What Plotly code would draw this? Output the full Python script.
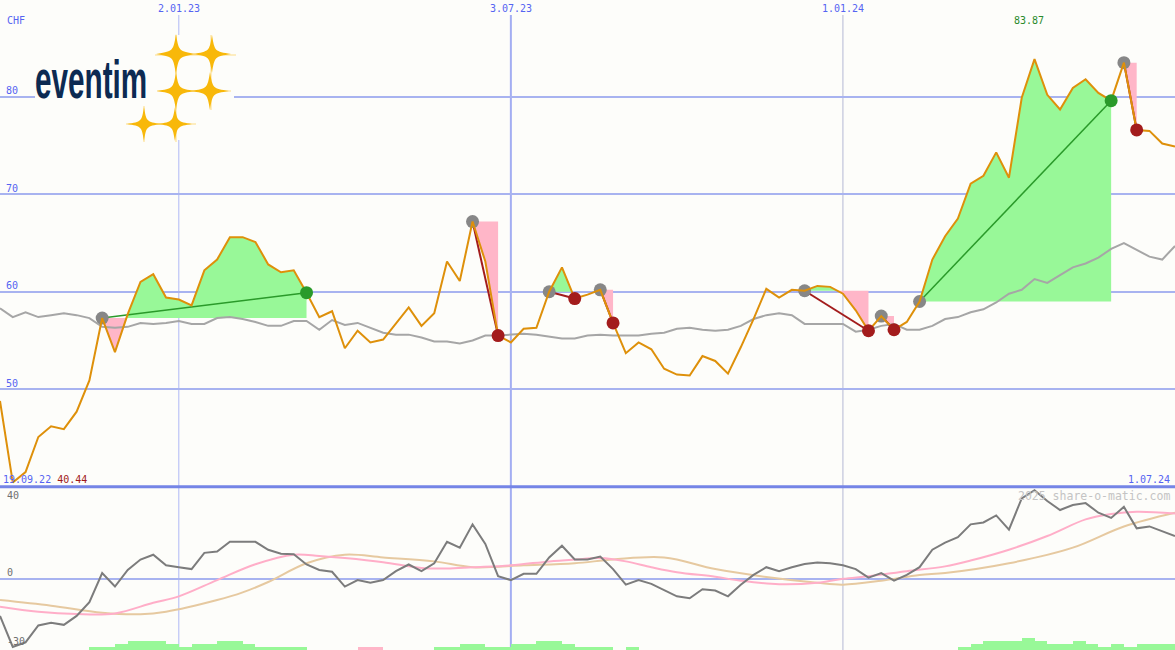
import plotly.graph_objects as go
import pandas as pd

# ---------------- data ----------------
start_date = "2022-09-26"
end_date = "2024-07-01"

price = [48.8, 40.44, 41.5, 45.1, 46.2, 45.9, 47.7, 50.9, 57.3, 53.8,
         57.7, 61.0, 61.8, 59.4, 59.2, 58.6, 62.2, 63.3, 65.6, 65.6,
         65.1, 62.8, 62.0, 62.2, 59.9, 57.4, 58.0, 54.2, 56.0, 54.8,
         55.1, 56.7, 58.4, 56.5, 57.8, 63.1, 61.1, 67.2, 63.1, 55.5,
         54.8, 56.2, 56.3, 60.0, 62.5, 59.3, 59.7, 60.2, 56.8, 53.7,
         54.8, 54.1, 52.1, 51.5, 51.4, 53.4, 52.9, 51.6, 54.3, 57.2,
         60.3, 59.4, 60.2, 60.1, 60.6, 60.5, 59.8, 58.1, 56.0, 57.5,
         56.1, 56.9, 59.0, 63.3, 65.7, 67.5, 71.1, 71.9, 74.3, 71.7,
         79.9, 83.87, 80.2, 78.7, 80.9, 81.8, 80.4, 79.6, 83.5, 76.6,
         76.5, 75.2, 74.9]

benchmark = [58.3, 57.4, 57.9, 57.4, 57.6, 57.8, 57.6, 57.3, 56.4, 56.3,
             56.4, 56.8, 56.7, 56.8, 57.0, 56.7, 56.7, 57.3, 57.4, 57.2,
             56.9, 56.5, 56.5, 57.0, 57.0, 56.1, 57.1, 56.6, 56.8, 56.3,
             55.8, 55.6, 55.6, 55.3, 54.9, 54.9, 54.7, 55.0, 55.5, 55.5,
             55.6, 55.7, 55.6, 55.4, 55.2, 55.2, 55.5, 55.6, 55.5, 55.5,
             55.5, 55.7, 55.8, 56.2, 56.3, 56.1, 56.0, 56.1, 56.5, 57.2,
             57.6, 57.8, 57.6, 56.7, 56.7, 56.7, 56.7, 55.9, 56.1, 56.5,
             56.7, 56.1, 56.1, 56.5, 57.2, 57.4, 57.9, 58.2, 58.9, 59.8,
             60.2, 61.3, 60.9, 61.7, 62.5, 62.9, 63.5, 64.4, 65.0, 64.3,
             63.6, 63.3, 64.7]

momentum = [-17.8, -32.7, -30.5, -22.4, -21.1, -22.1, -17.8, -11.2, 2.8, -3.7,
            4.3, 9.3, 11.6, 6.5, 5.6, 4.7, 12.5, 13.1, 17.8, 17.8,
            17.8, 14.0, 12.1, 11.8, 6.9, 4.3, 3.4, -3.7, -0.6, -1.9,
            -0.6, 3.7, 6.9, 3.7, 7.5, 17.8, 15.0, 26.2, 16.8, 1.3,
            -0.6, 2.4, 2.4, 10.3, 15.9, 9.3, 9.3, 10.7, 4.7, -2.8,
            -0.6, -2.4, -5.6, -8.4, -9.3, -5.0, -5.6, -8.4, -2.8, 1.9,
            5.6, 3.7, 5.6, 7.1, 7.9, 7.5, 6.5, 4.7, 0.6, 2.8,
            -0.9, 1.9, 5.6, 14.0, 17.4, 20.0, 26.2, 27.1, 30.5, 23.7,
            38.7, 42.6, 37.4, 33.1, 35.5, 36.4, 31.8, 29.3, 34.6, 24.3,
            25.2, 23.0, 20.6]

fast_week = [0, 3, 6, 9, 12, 14, 17, 20, 23, 25, 27, 30, 33, 35, 37, 40, 43, 45, 47,
             49, 51, 53, 56, 58, 61, 64, 66, 68, 71, 74, 76, 79, 82, 85, 87, 89, 92]
fast_avg = [-13.4, -15.8, -16.9, -16.6, -11.5, -8.4, -0.6, 7.0, 11.6, 11.0, 10.0, 8.0,
            5.2, 5.0, 5.6, 6.5, 8.4, 9.3, 10.0, 8.4, 5.6, 3.2, 1.0, -0.9, -2.6, -1.9,
            0.0, 1.3, 3.7, 6.0, 8.8, 14.0, 20.6, 28.6, 31.2, 32.3, 31.4]

slow_week = [0, 4, 8, 11, 13, 17, 19, 21, 24, 27, 30, 34, 37, 41, 45, 48, 52, 56,
             60, 64, 66, 69, 72, 74, 79, 84, 88, 92]
slow_avg = [-10.2, -12.9, -16.3, -17.0, -15.8, -10.2, -6.5, -1.5, 7.5, 11.6, 10.3, 8.4,
            5.6, 6.5, 7.5, 9.3, 10.3, 4.7, 0.9, -1.9, -2.8, -0.9, 1.9, 2.8, 7.5, 15.0,
            25.2, 31.8]

# weekly volume levels (green = up, pink = down)
vol_up = [0, 0, 0, 0, 0, 0, 0, 1, 1, 2, 3, 3, 3, 2, 1, 2, 2, 3, 3, 2,
          1, 1, 1, 1, 0, 0, 0, 0, 0, 0, 0, 0, 0, 0, 1, 1, 2, 2, 1, 1,
          2, 2, 3, 3, 2, 1, 1, 1, 0, 1, 0, 0, 0, 0, 0, 0, 0, 0, 0, 0,
          0, 0, 0, 0, 0, 0, 0, 0, 0, 0, 0, 0, 0, 0, 0, 1, 2, 3, 3, 3,
          4, 3, 2, 2, 3, 2, 1, 2, 1, 2, 2, 2, 2]
vol_dn = [0] * 28 + [1, 1] + [0] * 63

buy_week = [8, 37, 43, 47, 63, 69, 72, 88]
sell_week = [24, 39, 45, 48, 68, 70, 87, 89]

top_dates = ["2023-01-02", "2023-07-03", "2024-01-01"]
top_labels = ["2.01.23", "3.07.23", "1.01.24"]
end_label = "1.07.24"
low_label = "19.09.22"
low_value = "40.44"
high_value = "83.87"
price_ticks = [50, 60, 70, 80]

# ---------------- styling ----------------
W, H = 1175, 650
BG = "#fdfdfa"
BLUE_TXT = "#5564f2"
GRID = "#a8b3f0"
ORANGE = "#de900a"
FILL_G = "#98f898"
FILL_P = "#ffb6c8"
MONO = "DejaVu Sans Mono, monospace"

t0 = pd.Timestamp(start_date)


def wdate(k):
    return t0 + pd.Timedelta(days=7 * k)


dates = [wdate(k) for k in range(len(price))]

fig = go.Figure()

# trade fills
for kb, ks in zip(buy_week, sell_week):
    level = price[kb]
    xs, vs = [], []
    for k in range(kb, ks + 1):
        if k > kb:
            a = price[k - 1] - level
            b = price[k] - level
            if a * b < 0:
                t = a / (a - b)
                xs.append(k - 1 + t)
                vs.append(level)
        xs.append(k)
        vs.append(price[k])
    up = [max(v, level) for v in vs]
    dn = [min(v, level) for v in vs]
    for ys, col in ((up, FILL_G), (dn, FILL_P)):
        if any(abs(y - level) > 1e-9 for y in ys):
            px_ = [wdate(x) for x in xs] + [wdate(ks), wdate(kb)]
            py_ = ys + [level, level]
            fig.add_trace(go.Scatter(x=px_, y=py_, fill="toself", fillcolor=col,
                                     mode="lines", line=dict(width=0), hoverinfo="skip",
                                     xaxis="x", yaxis="y"))

# benchmark line
fig.add_trace(go.Scatter(x=dates, y=benchmark, mode="lines",
                         line=dict(color="#a6a6a6", width=2), xaxis="x", yaxis="y"))

# trade connecting lines
for kb, ks in zip(buy_week, sell_week):
    win = price[ks] > price[kb]
    fig.add_trace(go.Scatter(x=[dates[kb], dates[ks]], y=[price[kb], price[ks]],
                             mode="lines",
                             line=dict(color="#2a9a2a" if win else "#a31c1c",
                                       width=1.5 if win else 2),
                             xaxis="x", yaxis="y"))

# buy markers
fig.add_trace(go.Scatter(x=[dates[k] for k in buy_week], y=[price[k] for k in buy_week],
                         mode="markers", marker=dict(color="#878787", size=13),
                         xaxis="x", yaxis="y"))

# price line
fig.add_trace(go.Scatter(x=dates, y=price, mode="lines",
                         line=dict(color=ORANGE, width=2), xaxis="x", yaxis="y"))

# sell markers
fig.add_trace(go.Scatter(x=[dates[k] for k in sell_week], y=[price[k] for k in sell_week],
                         mode="markers",
                         marker=dict(color=["#2a9a2a" if price[s] > price[b] else "#a31c1c"
                                            for b, s in zip(buy_week, sell_week)], size=13),
                         xaxis="x", yaxis="y"))

# lower panel: volume bars
bar_x = [t0 + pd.Timedelta(days=7 * k + 3.5) for k in range(len(vol_up))]
bar_w = 7 * 24 * 3600 * 1000
fig.add_trace(go.Bar(x=bar_x, y=vol_up, width=bar_w, marker=dict(color=FILL_G, line=dict(width=0)),
                     xaxis="x2", yaxis="y3"))
fig.add_trace(go.Bar(x=bar_x, y=vol_dn, width=bar_w, marker=dict(color=FILL_P, line=dict(width=0)),
                     xaxis="x2", yaxis="y3"))

# lower panel lines
fig.add_trace(go.Scatter(x=[wdate(k) for k in slow_week], y=slow_avg, mode="lines",
                         line=dict(color="#e6c9a0", width=2, shape="spline"), xaxis="x2", yaxis="y2"))
fig.add_trace(go.Scatter(x=[wdate(k) for k in fast_week], y=fast_avg, mode="lines",
                         line=dict(color="#ffaec8", width=2, shape="spline"), xaxis="x2", yaxis="y2"))
fig.add_trace(go.Scatter(x=dates, y=momentum, mode="lines",
                         line=dict(color="#7c7c7c", width=2), xaxis="x2", yaxis="y2"))

# ---------------- layout ----------------
split = 1 - 486.7 / H
fig.update_layout(
    width=W, height=H, margin=dict(l=0, r=0, t=0, b=0),
    paper_bgcolor=BG, plot_bgcolor=BG, showlegend=False, bargap=0, barmode="overlay",
    xaxis=dict(type="date", range=[t0, pd.Timestamp(end_date)], domain=[0, 1], anchor="y",
               showgrid=False, showticklabels=False, zeroline=False, showline=False, ticks=""),
    xaxis2=dict(type="date", matches="x", domain=[0, 1], anchor="y2",
                showgrid=False, showticklabels=False, zeroline=False, showline=False, ticks=""),
    yaxis=dict(domain=[split, 1], range=[40, 89.93], tickvals=price_ticks,
               ticktext=[str(v) for v in price_ticks],
               showgrid=True, gridcolor=GRID, gridwidth=2, zeroline=False, showline=False,
               ticks="", ticklabelposition="inside", ticklabelshift=-6, ticklabelstandoff=3,
               tickfont=dict(family=MONO, size=10, color=BLUE_TXT)),
    yaxis2=dict(domain=[0, split], range=[-34.2, 44.3], tickvals=[0], showticklabels=False,
                showgrid=True, gridcolor=GRID, gridwidth=2, zeroline=False, showline=False, ticks=""),
    yaxis3=dict(overlaying="y2", range=[0, 163.3 / 3], visible=False),
)

shapes = []
vcols = [("#b0b8f6", 1), ("#a3aef2", 2), ("#b4b8d4", 1)]
for d, (c, w) in zip(top_dates, vcols):
    shapes.append(dict(type="line", xref="x", yref="paper", x0=d, x1=d, y0=0, y1=1 - 15 / H,
                       line=dict(color=c, width=w), layer="between"))
shapes.append(dict(type="line", xref="paper", yref="paper", x0=0, x1=1, y0=split, y1=split,
                   line=dict(color="#7585e6", width=3), layer="between"))

# logo backdrop + sparkles


def P(px, py):
    return f"{px / W:.5f},{1 - py / H:.5f}"


shapes.append(dict(type="rect", xref="paper", yref="paper", x0=35 / W, x1=234 / W,
                   y0=1 - 140 / H, y1=1 - 35 / H, fillcolor=BG, line=dict(width=0), layer="above"))
for (x0, y0, x1, y1) in [(155, 55, 236, 55), (157, 91, 231, 91), (126, 124, 196, 124),
                         (176, 35, 176, 142), (211, 35, 211, 110), (144, 106, 144, 142)]:
    shapes.append(dict(type="line", xref="paper", yref="paper", x0=x0 / W, x1=x1 / W,
                       y0=1 - y0 / H, y1=1 - y1 / H, line=dict(color="#fde7ad", width=1.5),
                       layer="above"))
for cx, cy, r in [(176, 54, 20), (212, 54, 19), (176, 91, 19), (210, 91, 19),
                  (144, 124, 17), (175, 124, 17)]:
    a = 0.14 * r
    path = (f"M {P(cx, cy - r)} C {P(cx + a, cy - a)} {P(cx + a, cy - a)} {P(cx + r, cy)} "
            f"C {P(cx + a, cy + a)} {P(cx + a, cy + a)} {P(cx, cy + r)} "
            f"C {P(cx - a, cy + a)} {P(cx - a, cy + a)} {P(cx - r, cy)} "
            f"C {P(cx - a, cy - a)} {P(cx - a, cy - a)} {P(cx, cy - r)} Z")
    shapes.append(dict(type="path", xref="paper", yref="paper", path=path,
                       fillcolor="#f8b80a", line=dict(width=0), layer="above"))
fig.update_layout(shapes=shapes)

ann = []
ann.append(dict(text="CHF", xref="paper", yref="paper", x=5 / W, y=1 - 21 / H,
                xanchor="left", yanchor="middle", showarrow=False,
                font=dict(family=MONO, size=10, color=BLUE_TXT)))
for d, lab in zip(top_dates, top_labels):
    ann.append(dict(text=lab, xref="x", yref="paper", x=d, y=1 - 8.5 / H,
                    xanchor="center", yanchor="middle", showarrow=False,
                    font=dict(family=MONO, size=10, color=BLUE_TXT)))
ann.append(dict(text=end_label, xref="paper", yref="paper", x=1 - 3 / W, y=1 - 479 / H,
                xanchor="right", yanchor="middle", showarrow=False,
                font=dict(family=MONO, size=10, color=BLUE_TXT)))
ann.append(dict(text=f"<span style='color:{BLUE_TXT}'>{low_label}</span> "
                     f"<span style='color:#a01818'>{low_value}</span>",
                xref="paper", yref="paper", x=1 / W, y=1 - 479 / H,
                xanchor="left", yanchor="middle", showarrow=False,
                font=dict(family=MONO, size=10, color=BLUE_TXT)))
ann.append(dict(text=high_value, xref="x", yref="paper", x=dates[price.index(max(price))],
                y=1 - 21 / H, xshift=-6, xanchor="center", yanchor="middle", showarrow=False,
                font=dict(family=MONO, size=10, color="#2a8a2a")))
for val, shift in [(40, 0), (0, 6), (-30, 0)]:
    ann.append(dict(text=str(val), xref="paper", yref="y2", x=5 / W, y=val, yshift=shift,
                    xanchor="left", yanchor="middle", showarrow=False,
                    font=dict(family=MONO, size=10, color="#707070")))
ann.append(dict(text="2025 share-o-matic.com", xref="paper", yref="paper", x=1 - 3 / W,
                y=1 - 496 / H, xanchor="right", yanchor="middle", showarrow=False,
                font=dict(family=MONO, size=11.5, color="#c4c4c4")))
ann.append(dict(text="<b>eventim</b>", xref="paper", yref="paper", x=33 / W, y=1 - 79 / H,
                xanchor="left", yanchor="middle", showarrow=False,
                font=dict(family="Liberation Sans, Arial, sans-serif",
                          size=54, color="#0c2a52")))
fig.update_layout(annotations=ann)

post = """
document.body.style.margin='0';
document.querySelectorAll('text.annotation-text').forEach(function(t){
  if (t.textContent === 'eventim') {
    var b = t.getBBox();
    var x = b.x;
    t.setAttribute('transform', 'translate(' + x + ',0) scale(0.55,1) translate(' + (-x) + ',0)');
  }
});
"""
fig.write_html("out.html", config={"displayModeBar": False}, post_script=post)
